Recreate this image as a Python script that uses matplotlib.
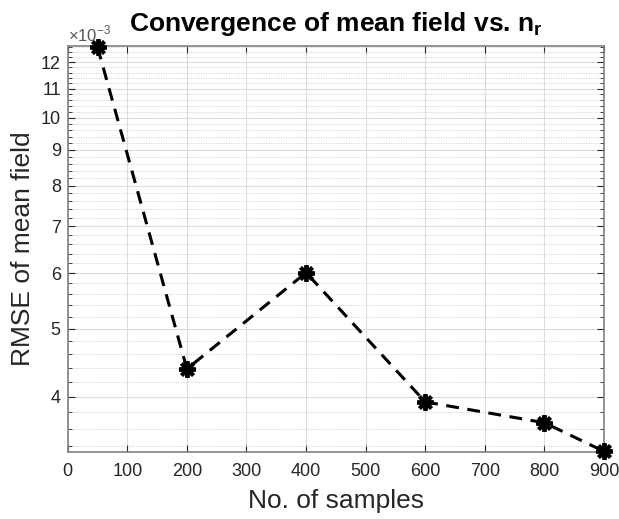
import matplotlib
matplotlib.use("Agg")
import matplotlib.pyplot as plt
from matplotlib.ticker import FixedLocator, FixedFormatter, NullFormatter
import numpy as np

plt.rcParams['font.family'] = ['Liberation Sans', 'DejaVu Sans']
plt.rcParams['mathtext.fontset'] = 'custom'
plt.rcParams['mathtext.rm'] = 'Liberation Sans'
plt.rcParams['mathtext.bf'] = 'Liberation Sans:bold'

n_samples = [50, 200, 400, 600, 800, 900]
rmse = [12.62e-3, 4.38e-3, 6.01e-3, 3.93e-3, 3.67e-3, 3.34e-3]

x_ticks = [0, 100, 200, 300, 400, 500, 600, 700, 800, 900]
y_ticks = [4e-3, 5e-3, 6e-3, 7e-3, 8e-3, 9e-3, 10e-3, 11e-3, 12e-3]
y_tick_labels = ['4', '5', '6', '7', '8', '9', '10', '11', '12']
y_minor = [v * 1e-3 for v in np.arange(3.4, 12.61, 0.2)]

fig = plt.figure(figsize=(6.19, 5.19), dpi=100)
ax = fig.add_axes([0.1094, 0.1285, 0.9758 - 0.1094, 0.9114 - 0.1285])

ax.set_yscale('log')
ax.plot(n_samples, rmse, color='black', linestyle=(0, (4.2, 2.8)), linewidth=2.2,
        marker=(8, 2, 0), markersize=12, markeredgewidth=2.8, markeredgecolor='black',
        clip_on=False, zorder=5)

ax.set_xlim(0, 900)
ax.set_ylim(3.33e-3, 12.66e-3)

ax.xaxis.set_major_locator(FixedLocator(x_ticks))
ax.yaxis.set_major_locator(FixedLocator(y_ticks))
ax.yaxis.set_major_formatter(FixedFormatter(y_tick_labels))
ax.yaxis.set_minor_locator(FixedLocator(y_minor))
ax.yaxis.set_minor_formatter(NullFormatter())

gray = '#262626'
ax.grid(True, which='major', axis='both', color='#dcdcdc', linewidth=0.8, linestyle='-')
ax.grid(True, which='minor', axis='y', color='#d0d0d0', linewidth=0.6, linestyle=(0, (1.5, 1.5)))
ax.set_axisbelow(True)

ax.tick_params(which='both', direction='in', top=True, right=True, colors=gray,
               labelsize=13, labelcolor=gray)
ax.tick_params(which='major', length=5, width=0.8)
ax.tick_params(which='minor', length=3, width=0.6)
ax.tick_params(axis='x', pad=8)
ax.tick_params(axis='y', pad=5)

for s in ax.spines.values():
    s.set_color('#808080')
    s.set_linewidth(1.2)

ax.set_xlabel('No. of samples', fontsize=19, color=gray, labelpad=6)
ax.set_ylabel('RMSE of mean field', fontsize=19, color=gray, labelpad=4)
ax.set_title(r'Convergence of mean field vs. n$_{\mathbf{r}}$', fontsize=19, fontweight='bold',
             color='black', pad=11)

ax.text(0.0, 1.005, r'$\times$10$^{-3}$', transform=ax.transAxes, fontsize=12,
        color='#555555', ha='left', va='bottom')

fig.savefig('out.png', dpi=100)
